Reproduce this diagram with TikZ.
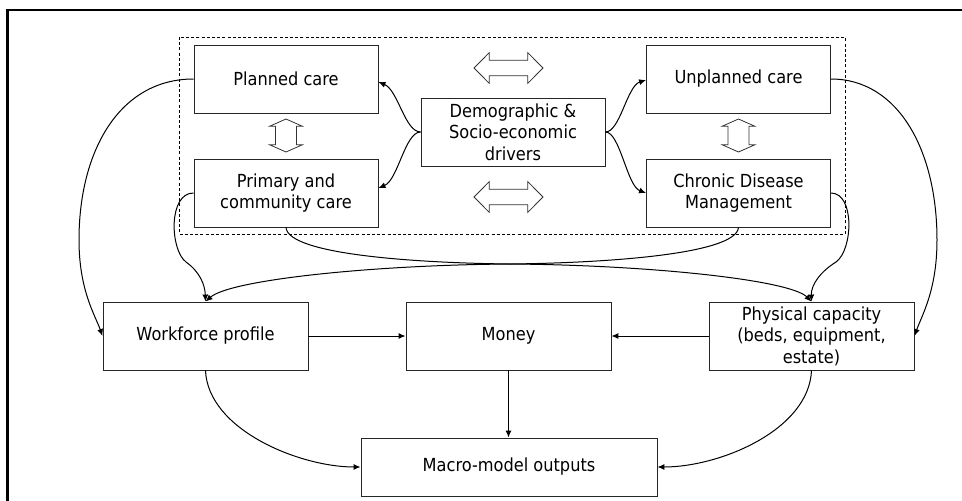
\documentclass[tikz,border=0pt]{standalone}
\usepackage{fontspec}
\setmainfont{DejaVu Sans}[FakeStretch=0.9]
\usetikzlibrary{arrows.meta}

\tikzset{
  box/.style={draw=black!85, line width=0.9pt, fill=white, rectangle, inner sep=0pt,
    align=center, font=\fontsize{18}{21.5}\selectfont, minimum height=68pt},
  narrowbox/.style={box, minimum width=184pt},
  widebox/.style={box, minimum width=205pt},
  conn/.style={line width=1pt, -{Latex[length=7pt,width=6pt]}},
  blockarrow/.style={draw=black!80, line width=0.8pt, fill=white, line join=miter},
  hdouble/.pic={
    \draw[blockarrow] (-34.5,0) -- (-19.3,-15.3) -- (-19.3,-7.7) -- (19.3,-7.7)
      -- (19.3,-15.3) -- (34.5,0) -- (19.3,15.3) -- (19.3,7.7) -- (-19.3,7.7)
      -- (-19.3,15.3) -- cycle;},
  vdouble/.pic={
    \draw[blockarrow] (0,-16.5) -- (16.3,-9.3) -- (10.5,-9.3) -- (10.5,9.3)
      -- (16.3,9.3) -- (0,16.5) -- (-16.3,9.3) -- (-10.5,9.3) -- (-10.5,-9.3)
      -- (-16.3,-9.3) -- cycle;}
}

\begin{document}
\begin{tikzpicture}[x=1pt,y=-1pt]
\useasboundingbox (0,0) rectangle (962,501);

% outer frame (left and top edges)
\draw[line width=2.6pt] (7.5,502) -- (7.5,10) -- (963,10);

% dashed group around the care settings
\draw[line width=0.8pt, dash pattern=on 3pt off 2.2pt] (179,37) rectangle (845,234);

% care settings and drivers
\node[narrowbox] (plan)  at (286,79)    {Planned care};
\node[narrowbox] (prim)  at (286,193)   {Primary and\\community care};
\node[narrowbox] (demo)  at (513,132)   {Demographic \&\\Socio-economic\\drivers};
\node[narrowbox] (unpl)  at (738.5,79)  {Unplanned care};
\node[narrowbox] (chron) at (738.5,193) {Chronic Disease\\Management};

% resources
\node[widebox] (work)  at (205.5,336) {Workforce profile};
\node[widebox] (money) at (508.5,336) {Money};
\node[widebox] (phys)  at (811.5,336) {Physical capacity\\(beds, equipment,\\estate)};

% outputs
\node[box, minimum width=296pt, minimum height=58pt] (macro) at (509,467) {Macro-model outputs};

% hollow two-way arrows between settings
\pic at (508.5,68)  {hdouble};
\pic at (508.5,197) {hdouble};
\pic at (286,135.5) {vdouble};
\pic at (738.5,135.5) {vdouble};

% drivers to care settings
\draw[conn] (demo.west) .. controls (405,132) and (398,90) .. ([yshift=-3pt]plan.east);
\draw[conn] (demo.west) .. controls (405,132) and (398,180) .. ([yshift=5pt]prim.east);
\draw[conn] (demo.east) .. controls (620,132) and (627,86) .. ([yshift=-1pt]unpl.east -| unpl.west);
\draw[conn] (demo.east) .. controls (620,132) and (627,186) .. (chron.west);

% care settings to resources
\draw[conn] (plan.west) .. controls (120,79) and (79,150) .. (79,240)
  .. controls (79,290) and (95,315) .. (work.west);
\draw[conn] (unpl.east) .. controls (898,79) and (937,150) .. (937,240)
  .. controls (937,290) and (922,315) .. (phys.east);
\draw[conn] (prim.west) .. controls (168,193) and (170,250) .. (186,262)
  .. controls (200,272) and (205,285) .. (work.north);
\draw[conn] (chron.east) .. controls (855,193) and (853,250) .. (836,262)
  .. controls (820,272) and (811,285) .. (phys.north);
\draw[conn] (prim.south) .. controls (288,255) and (420,263) .. (510,264)
  .. controls (650,265) and (790,280) .. (phys.north);
\draw[conn] (chron.south) .. controls (736,255) and (600,263) .. (510,264)
  .. controls (370,265) and (230,280) .. (work.north);

% resources to money and outputs
\draw[conn] (work.east) -- (money.west);
\draw[conn] (phys.west) -- (money.east);
\draw[conn] (money.south) -- (money.south |- macro.north);
\draw[conn] (work.south) .. controls (208,430) and (300,467) .. (macro.west);
\draw[conn] (phys.south) .. controls (809,430) and (720,467) .. (macro.east);
\end{tikzpicture}
\end{document}
